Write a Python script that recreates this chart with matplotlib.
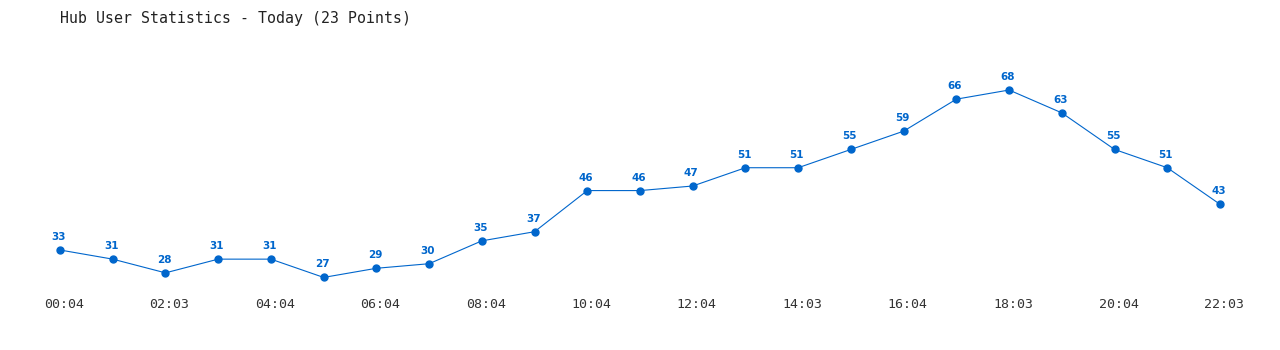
import matplotlib
matplotlib.use('Agg')
import matplotlib.pyplot as plt
from matplotlib.transforms import ScaledTranslation

times = ['00:04', '01:04', '02:03', '03:04', '04:04', '05:04', '06:04', '07:04',
         '08:04', '09:04', '10:04', '11:04', '12:04', '13:04', '14:03', '15:04',
         '16:04', '17:04', '18:03', '19:04', '20:04', '21:04', '22:03']
users = [33, 31, 28, 31, 31, 27, 29, 30, 35, 37, 46, 46, 47, 51, 51, 55,
         59, 66, 68, 63, 55, 51, 43]

color = '#0066cc'

fig = plt.figure(figsize=(12.8, 3.5), dpi=100)
ax = fig.add_axes([0, 60 / 350, 1, 290 / 350])

x = list(range(len(users)))
ax.plot(x, users, color=color, linewidth=0.8, marker='o', markersize=5)

for i, v in zip(x, users):
    ax.annotate(str(v), (i, v), xytext=(-1, 9.4), textcoords='offset points',
                ha='center', va='center', fontsize=7.5, fontweight='bold',
                color=color, family='DejaVu Sans')

ax.set_xlim(-60 / 52.727, 1220 / 52.727)
ax.set_ylim(33 - 40 / 4.571, 33 + 250 / 4.571)

ax.set_xticks(x[::2])
ax.set_xticklabels(times[::2], family='DejaVu Sans Mono', fontsize=9.5, color='#333333')
ax.tick_params(axis='x', length=0, pad=6)
shift = ScaledTranslation(4 / 100, 0, fig.dpi_scale_trans)
for lbl in ax.get_xticklabels():
    lbl.set_transform(lbl.get_transform() + shift)
ax.set_yticks([])
for s in ax.spines.values():
    s.set_visible(False)

fig.text(60 / 1280, 1 - 18 / 350, 'Hub User Statistics - Today (23 Points)',
         family='DejaVu Sans Mono', fontsize=10.7, color='#222222',
         ha='left', va='center')

fig.savefig('out.png', dpi=100)
